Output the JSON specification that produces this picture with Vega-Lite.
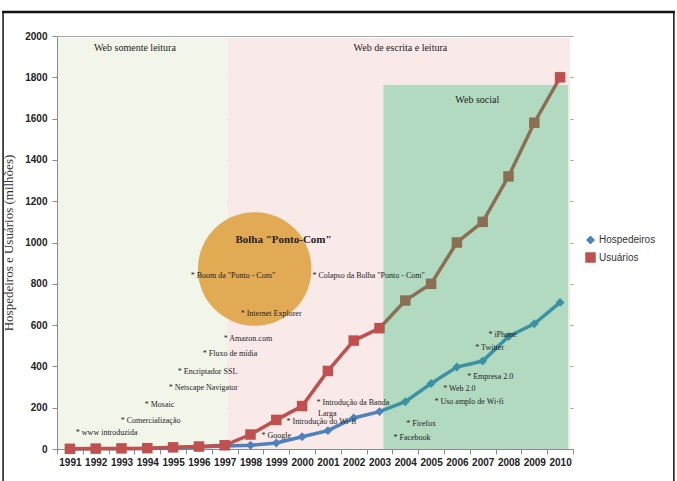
{
  "$schema": "https://vega.github.io/schema/vega-lite/v6.json",
  "width": 516,
  "height": 413,
  "autosize": {"type": "none"},
  "padding": {"left": 57, "top": 36, "right": 104, "bottom": 32},
  "background": "white",
  "config": {"view": {"stroke": null}, "axisX": {"labelOverlap": false, "labelFlush": false, "labelSeparation": 0}},
  "datasets": {
    "readonly": [{"start": 1990.54, "end": 1997.1, "top": 1990, "bottom": 0}],
    "readwrite": [{"start": 1997.1, "end": 2010.39, "top": 1990, "bottom": 0}],
    "social": [{"start": 2003.15, "end": 2010.31, "top": 1763, "bottom": 0}],
    "bubble": [{"year": 1998.16, "value": 872}],
    "series": [
      {"year": 1991, "serie": "Hospedeiros", "value": 0},
      {"year": 1992, "serie": "Hospedeiros", "value": 1},
      {"year": 1993, "serie": "Hospedeiros", "value": 1},
      {"year": 1994, "serie": "Hospedeiros", "value": 2},
      {"year": 1995, "serie": "Hospedeiros", "value": 5},
      {"year": 1996, "serie": "Hospedeiros", "value": 10},
      {"year": 1997, "serie": "Hospedeiros", "value": 15},
      {"year": 1998, "serie": "Hospedeiros", "value": 18},
      {"year": 1999, "serie": "Hospedeiros", "value": 29},
      {"year": 2000, "serie": "Hospedeiros", "value": 59},
      {"year": 2001, "serie": "Hospedeiros", "value": 89},
      {"year": 2002, "serie": "Hospedeiros", "value": 150},
      {"year": 2003, "serie": "Hospedeiros", "value": 181},
      {"year": 2004, "serie": "Hospedeiros", "value": 229},
      {"year": 2005, "serie": "Hospedeiros", "value": 317},
      {"year": 2006, "serie": "Hospedeiros", "value": 397},
      {"year": 2007, "serie": "Hospedeiros", "value": 426},
      {"year": 2008, "serie": "Hospedeiros", "value": 545},
      {"year": 2009, "serie": "Hospedeiros", "value": 606},
      {"year": 2010, "serie": "Hospedeiros", "value": 710},
      {"year": 1991, "serie": "Usuários", "value": 1},
      {"year": 1992, "serie": "Usuários", "value": 2},
      {"year": 1993, "serie": "Usuários", "value": 3},
      {"year": 1994, "serie": "Usuários", "value": 4},
      {"year": 1995, "serie": "Usuários", "value": 8},
      {"year": 1996, "serie": "Usuários", "value": 12},
      {"year": 1997, "serie": "Usuários", "value": 18},
      {"year": 1998, "serie": "Usuários", "value": 70},
      {"year": 1999, "serie": "Usuários", "value": 141},
      {"year": 2000, "serie": "Usuários", "value": 208},
      {"year": 2001, "serie": "Usuários", "value": 378},
      {"year": 2002, "serie": "Usuários", "value": 525},
      {"year": 2003, "serie": "Usuários", "value": 585},
      {"year": 2004, "serie": "Usuários", "value": 719},
      {"year": 2005, "serie": "Usuários", "value": 800},
      {"year": 2006, "serie": "Usuários", "value": 1000},
      {"year": 2007, "serie": "Usuários", "value": 1100},
      {"year": 2008, "serie": "Usuários", "value": 1320},
      {"year": 2009, "serie": "Usuários", "value": 1580},
      {"year": 2010, "serie": "Usuários", "value": 1800}
    ],
    "notes": [
      {"year": 1991.23, "value": 77, "label": "* www introduzida"},
      {"year": 1992.97, "value": 136, "label": "* Comercialização"},
      {"year": 1993.9, "value": 213, "label": "* Mosaic"},
      {"year": 1994.83, "value": 295, "label": "* Netscape Navigator"},
      {"year": 1995.18, "value": 373, "label": "* Encriptador SSL"},
      {"year": 1996.15, "value": 460, "label": "* Fluxo de mídia"},
      {"year": 1996.96, "value": 533, "label": "* Amazon.com"},
      {"year": 1997.62, "value": 654, "label": "* Internet Explorer"},
      {"year": 1995.68, "value": 838, "label": "* Boom da \"Ponto - Com\""},
      {"year": 2000.4, "value": 838, "label": "* Colapso da Bolha \"Ponto - Com\""},
      {"year": 1998.43, "value": 63, "label": "* Google"},
      {"year": 1999.4, "value": 131, "label": "* Introdução do Wi-fi"},
      {"year": 2000.56, "value": 223, "label": "* Introdução da Banda"},
      {"year": 2000.62, "value": 169, "label": "Larga"},
      {"year": 2004.04, "value": 121, "label": "* Firefox"},
      {"year": 2003.54, "value": 53, "label": "* Facebook"},
      {"year": 2005.13, "value": 228, "label": "* Uso amplo de Wi-fi"},
      {"year": 2005.47, "value": 291, "label": "* Web 2.0"},
      {"year": 2006.4, "value": 349, "label": "* Empresa 2.0"},
      {"year": 2006.71, "value": 489, "label": "* Twitter"},
      {"year": 2007.22, "value": 552, "label": "* iPhone"}
    ],
    "titles": [
      {"year": 1993.52, "value": 1942, "label": "Web somente leitura"},
      {"year": 2003.81, "value": 1942, "label": "Web de escrita e leitura"},
      {"year": 2006.79, "value": 1690, "label": "Web social"}
    ],
    "bubbleTitle": [{"year": 1999.28, "value": 1012, "label": "Bolha \"Ponto-Com\""}],
    "frameTop": [{"x1": 1988.37, "x2": 2014.45, "y": 2116}],
    "frameSides": [{"x": 1988.41, "y1": 2116, "y2": -160}, {"x": 2014.41, "y1": 2116, "y2": -160}]
  },
  "layer": [
    {
      "data": {"name": "readonly"},
      "mark": {"type": "rect", "color": "#f2f6ea"},
      "encoding": {
        "x": {"field": "start", "type": "quantitative", "scale": {"domain": [1990.5, 2010.5], "nice": false, "zero": false},
          "axis": {"values": [1990.5, 1991.5, 1992.5, 1993.5, 1994.5, 1995.5, 1996.5, 1997.5, 1998.5, 1999.5, 2000.5, 2001.5, 2002.5, 2003.5, 2004.5, 2005.5, 2006.5, 2007.5, 2008.5, 2009.5, 2010.5],
            "tickCount": 40,
            "labelExpr": "datum.value > 2010 ? '' : format(datum.value + 0.5, 'd')", "title": null, "grid": false,
            "labelOffset": 12.9, "tickSize": 5, "tickColor": "#8c8c8c", "domainColor": "#8c8c8c",
            "labelFont": "Liberation Sans", "labelFontSize": 10, "labelFontWeight": "bold", "labelColor": "#222", "labelPadding": 3, "labelFlush": false, "labelOverlap": false, "labelBound": false}},
        "x2": {"field": "end"},
        "y": {"field": "top", "type": "quantitative", "scale": {"domain": [0, 2000], "nice": false},
          "axis": {"values": [0, 200, 400, 600, 800, 1000, 1200, 1400, 1600, 1800, 2000], "tickCount": 20, "format": "d", "title": "Hospedeiros e Usuários (milhões)",
            "grid": true, "gridColor": "#a6a6a6", "gridWidth": 1, "tickSize": 5, "tickColor": "#8c8c8c", "domainColor": "#8c8c8c",
            "labelFont": "Liberation Sans", "labelFontSize": 10, "labelFontWeight": "bold", "labelColor": "#222", "labelPadding": 5,
            "titleFont": "Liberation Serif", "titleFontSize": 13, "titleFontWeight": "normal", "titleColor": "#333", "titlePadding": 9}},
        "y2": {"field": "bottom"}
      }
    },
    {
      "data": {"name": "readwrite"},
      "mark": {"type": "rect", "color": "#f9e9e9"},
      "encoding": {
        "x": {"field": "start", "type": "quantitative"},
        "x2": {"field": "end"},
        "y": {"field": "top", "type": "quantitative"},
        "y2": {"field": "bottom"}
      }
    },
    {
      "data": {"name": "bubble"},
      "mark": {"type": "point", "shape": "circle", "filled": true, "size": 12900, "color": "#dfa446", "opacity": 0.92},
      "encoding": {
        "x": {"field": "year", "type": "quantitative"},
        "y": {"field": "value", "type": "quantitative"}
      }
    },
    {
      "data": {"name": "series"},
      "mark": {"type": "line", "strokeWidth": 3.5},
      "encoding": {
        "x": {"field": "year", "type": "quantitative"},
        "y": {"field": "value", "type": "quantitative"},
        "color": {"field": "serie", "type": "nominal", "scale": {"domain": ["Hospedeiros", "Usuários"], "range": ["#4f81bd", "#c0504d"]},
          "legend": {"title": null, "orient": "none", "legendX": 528, "legendY": 199, "symbolSize": 80, "symbolStrokeWidth": 0,
            "labelFont": "Liberation Sans", "labelFontSize": 10, "labelColor": "#333", "rowPadding": 7, "labelOffset": 3}}
      }
    },
    {
      "data": {"name": "series"},
      "mark": {"type": "point", "filled": true, "opacity": 1},
      "encoding": {
        "x": {"field": "year", "type": "quantitative"},
        "y": {"field": "value", "type": "quantitative"},
        "color": {"field": "serie", "type": "nominal"},
        "shape": {"field": "serie", "type": "nominal", "scale": {"domain": ["Hospedeiros", "Usuários"], "range": ["diamond", "square"]}, "legend": null},
        "size": {"field": "serie", "type": "nominal", "scale": {"domain": ["Hospedeiros", "Usuários"], "range": [80, 110]}, "legend": null}
      }
    },
    {
      "data": {"name": "social"},
      "mark": {"type": "rect", "color": "#0cbb65", "opacity": 0.3},
      "encoding": {
        "x": {"field": "start", "type": "quantitative"},
        "x2": {"field": "end"},
        "y": {"field": "top", "type": "quantitative"},
        "y2": {"field": "bottom"}
      }
    },
    {
      "data": {"name": "notes"},
      "mark": {"type": "text", "align": "left", "baseline": "middle", "font": "Liberation Serif", "fontSize": 8, "color": "#222"},
      "encoding": {
        "x": {"field": "year", "type": "quantitative"},
        "y": {"field": "value", "type": "quantitative"},
        "text": {"field": "label"}
      }
    },
    {
      "data": {"name": "titles"},
      "mark": {"type": "text", "align": "center", "baseline": "middle", "font": "Liberation Serif", "fontSize": 10, "color": "#222"},
      "encoding": {
        "x": {"field": "year", "type": "quantitative"},
        "y": {"field": "value", "type": "quantitative"},
        "text": {"field": "label"}
      }
    },
    {
      "data": {"name": "bubbleTitle"},
      "mark": {"type": "text", "align": "center", "baseline": "middle", "font": "Liberation Serif", "fontSize": 11, "fontWeight": "bold", "color": "#222"},
      "encoding": {
        "x": {"field": "year", "type": "quantitative"},
        "y": {"field": "value", "type": "quantitative"},
        "text": {"field": "label"}
      }
    },
    {
      "data": {"name": "frameTop"},
      "mark": {"type": "rule", "color": "#111", "strokeWidth": 2.5, "clip": false},
      "encoding": {
        "x": {"field": "x1", "type": "quantitative"},
        "x2": {"field": "x2"},
        "y": {"field": "y", "type": "quantitative"}
      }
    },
    {
      "data": {"name": "frameSides"},
      "mark": {"type": "rule", "color": "#111", "strokeWidth": 1.5, "clip": false},
      "encoding": {
        "x": {"field": "x", "type": "quantitative"},
        "y": {"field": "y1", "type": "quantitative"},
        "y2": {"field": "y2"}
      }
    }
  ]
}
